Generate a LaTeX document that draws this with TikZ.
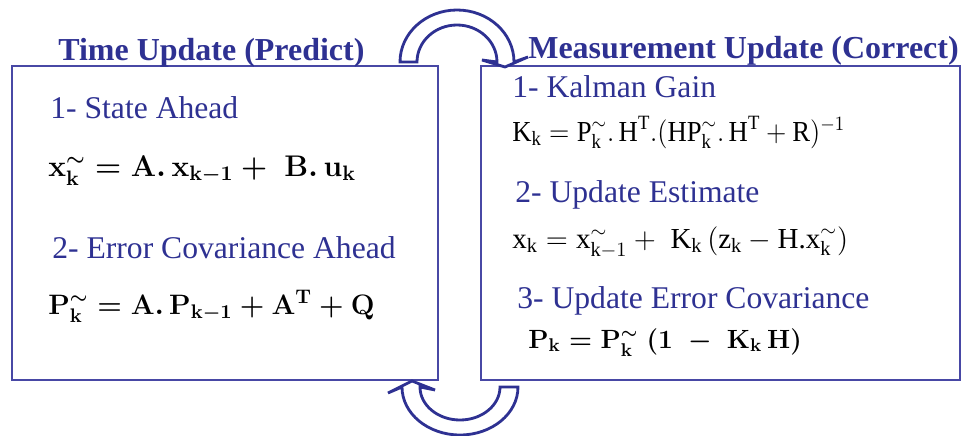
\RequirePackage{fix-cm}
\documentclass[tikz,border=0pt]{standalone}
\usepackage{amsmath,amssymb}
\usepackage[no-math]{fontspec}
\setmainfont{Liberation Serif}
\usetikzlibrary{positioning}
\definecolor{kfblue}{RGB}{46,49,146}
\definecolor{kfframe}{RGB}{72,72,165}
% upright symbol in the text font, for the plain equations
\newcommand{\rv}[1]{\text{#1}}
\tikzset{
    % the two panels
    panel/.style={draw=kfframe, line width=0.8pt, inner sep=0pt},
    % panel headings
    paneltitle/.style={anchor=base west, inner sep=0pt, text=kfblue,
        font=\fontsize{18.2}{20}\selectfont\bfseries},
    % numbered steps
    steplabel/.style={anchor=base west, inner sep=0pt, text=kfblue,
        font=\fontsize{18}{20}\selectfont},
    % equations
    eqbold/.style={anchor=base west, inner sep=0pt,
        font=\fontsize{17}{19}\selectfont\boldmath},
    eqplain/.style={anchor=base west, inner sep=0pt,
        font=\fontsize{16.5}{19}\selectfont},
    % curved loop arrows
    looparrow/.style={draw=kfblue, line width=1.6pt, fill=white},
}
\begin{document}
\begin{tikzpicture}[x=0.02cm,y=-0.02cm]
  \useasboundingbox (0,0) rectangle (965,436);
  % panels
  \node[panel,minimum width=8.52cm,minimum height=6.28cm] (predict) at (225,223) {};
  \node[panel,minimum width=9.58cm,minimum height=6.28cm] (correct) at (720.5,223) {};
  \node[paneltitle] (ptitle) at (58,60) {Time Update (Predict)};
  \node[paneltitle] (ctitle) at (528,58) {Measurement Update (Correct)};
  % time update
  \node[steplabel] (ahead) at (50,118) {1- State Ahead};
  \node[eqbold] (xprior) at (48,176)
    {$\mathbf{x}^{\sim}_{\mathbf{k}} = \mathbf{A}.\,\mathbf{x}_{\mathbf{k}-\mathbf{1}} +\; \mathbf{B}.\,\mathbf{u}_{\mathbf{k}}$};
  \node[steplabel] (covahead) at (52,258) {2- Error Covariance Ahead};
  \node[eqbold,font=\fontsize{16}{18}\selectfont\boldmath] (pprior) at (48,314)
    {$\mathbf{P}^{\sim}_{\mathbf{k}} = \mathbf{A}.\,\mathbf{P}_{\mathbf{k}-\mathbf{1}} + \mathbf{A}^{\mathbf{T}} + \mathbf{Q}$};
  % measurement update
  \node[steplabel] (gain) at (512,97) {1- Kalman Gain};
  \node[eqplain] (kgain) at (512,141)
    {\scalebox{0.92}[1]{$\rv{K}_{\rv{k}} = \rv{P}^{\sim}_{\rv{k}}.\,\rv{H}^{\rv{T}}.(\rv{HP}^{\sim}_{\rv{k}}.\,\rv{H}^{\rv{T}}+\rv{R})^{-1}$}};
  \node[steplabel] (estimate) at (515,202) {2- Update Estimate};
  \node[eqplain] (xpost) at (512,248)
    {$\rv{x}_{\rv{k}} = \rv{x}^{\sim}_{\rv{k}-1} +\; \rv{K}_{\rv{k}}\,(\rv{z}_{\rv{k}} - \rv{H.x}^{\sim}_{\rv{k}})$};
  \node[steplabel] (errcov) at (517,308) {3- Update Error Covariance};
  \node[eqbold,font=\fontsize{15}{17}\selectfont\boldmath] (ppost) at (528,348)
    {$\mathbf{P}_{\mathbf{k}} = \mathbf{P}^{\sim}_{\mathbf{k}}\;(\mathbf{1}\;-\;\mathbf{K}_{\mathbf{k}}\,\mathbf{H})$};
  % loop arrows
  \draw[looparrow] (400,62) arc[start angle=180,end angle=360,x radius=57,y radius=52]
    -- (528,57) -- (505,67) -- (482,60) -- (497,62)
    arc[start angle=0,end angle=-180,x radius=40,y radius=37] -- cycle;
  \draw[looparrow] (518,387) arc[start angle=0,end angle=180,x radius=58,y radius=48]
    -- (388,393) -- (412,381) -- (435,390) -- (420,387)
    arc[start angle=180,end angle=0,x radius=40,y radius=33] -- cycle;
\end{tikzpicture}
\end{document}
